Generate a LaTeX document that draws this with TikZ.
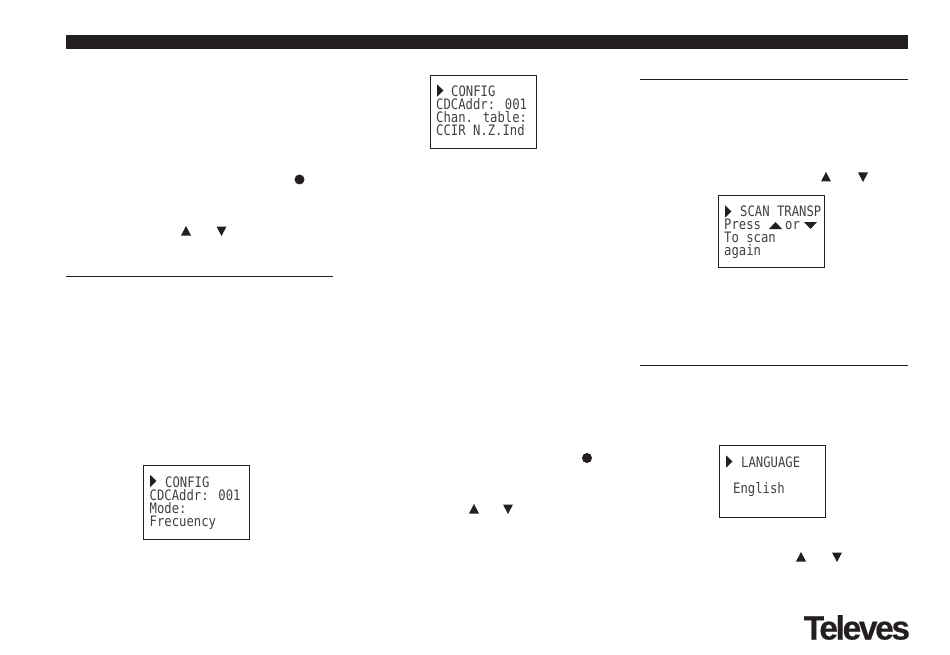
\documentclass[tikz,border=0pt]{standalone}
\usepackage{fontspec}
\newfontfamily\lcdfont[FakeStretch=0.85]{DejaVu Sans Mono}
\newfontfamily\logofont[LetterSpace=-7,FakeBold=0.4]{Liberation Sans Bold}
\definecolor{inkblack}{RGB}{35,31,32}
\tikzset{
  lcdbox/.style={draw=inkblack,line width=0.8pt,fill=white},
  lcdline/.style={anchor=base west,inner sep=0pt,text=inkblack!85,font=\lcdfont\fontsize{14.4}{15}\selectfont},
  rulegray/.style={draw=inkblack,line width=1pt},
  mark black/.style={fill=inkblack,draw=none}
}
% button symbols
\newcommand{\upkey}[1]{\fill[mark black] (#1) ++(-5,4.5) -- ++(10,0) -- ++(-5,-9.5) -- cycle;}
\newcommand{\downkey}[1]{\fill[mark black] (#1) ++(-5,-4.5) -- ++(10,0) -- ++(-5,9.5) -- cycle;}
\newcommand{\lcdarrow}[1]{\fill[mark black] (#1) ++(0,-6.2) -- ++(6.5,6.2) -- ++(-6.5,6.2) -- cycle;}
\begin{document}
\begin{tikzpicture}[x=1pt,y=-1pt]
\useasboundingbox (0,0) rectangle (950,655);
% header band and rules
\fill[inkblack] (66,35.5) rectangle (908,49);
\draw[rulegray] (66,276) -- (333,276);
\draw[rulegray] (640,79.5) -- (908,79.5);
\draw[rulegray] (640,365) -- (908,365);
% left column
\fill[mark black] (299.5,179.5) circle (5);
\upkey{186,231}
\downkey{221.5,231}
\draw[lcdbox] (143.5,465.5) rectangle (249,539);
\lcdarrow{150,481}
\node[lcdline] (modetitle) at (165,487) {CONFIG};
\node[lcdline] (modeaddr) at (149.5,500) {CDCAddr: 001};
\node[lcdline] (modelabel) at (149.5,513) {Mode:};
\node[lcdline] (modevalue) at (149.5,526.5) {Frecuency};
% middle column
\draw[lcdbox] (430.5,75) rectangle (536,148);
\lcdarrow{437,90.5}
\node[lcdline] (chantitle) at (451,97) {CONFIG};
\node[lcdline] (chanaddr) at (436,109.7) {CDCAddr: 001};
\node[lcdline] (chanlabel) at (436,122.7) {Chan. table:};
\node[lcdline] (chanvalue) at (436,135.7) {CCIR N.Z.Ind};
\fill[mark black] (587,458) circle (5);
\upkey{474,509}
\downkey{508,509}
% right column
\upkey{826,177}
\downkey{863,177}
\draw[lcdbox] (718.5,195) rectangle (824.5,267);
\lcdarrow{725,211.5}
\node[lcdline] (scantitle) at (740,217) {SCAN TRANSP};
\node[lcdline] (scanpress) at (724,229.7) {Press};
\node[lcdline] (scanor) at (785,229.7) {or};
\fill[mark black] (769,229) -- (782,229) -- (775.5,222) -- cycle;
\fill[mark black] (804,222) -- (817,222) -- (810.5,229) -- cycle;
\node[lcdline] (scanto) at (724,242.7) {To scan};
\node[lcdline] (scanagain) at (724,255.7) {again};
\draw[lcdbox] (719.5,445.5) rectangle (825.5,517);
\lcdarrow{726,461.5}
\node[lcdline] (langtitle) at (741,467) {LANGUAGE};
\node[lcdline] (langvalue) at (733,493.5) {English};
\upkey{801,557}
\downkey{837,557}
% logo
\node[anchor=base west,inner sep=0pt,text=inkblack,font=\logofont\fontsize{33.5}{34}\selectfont] (logo) at (803.5,639.5) {Televes};
\end{tikzpicture}
\end{document}
